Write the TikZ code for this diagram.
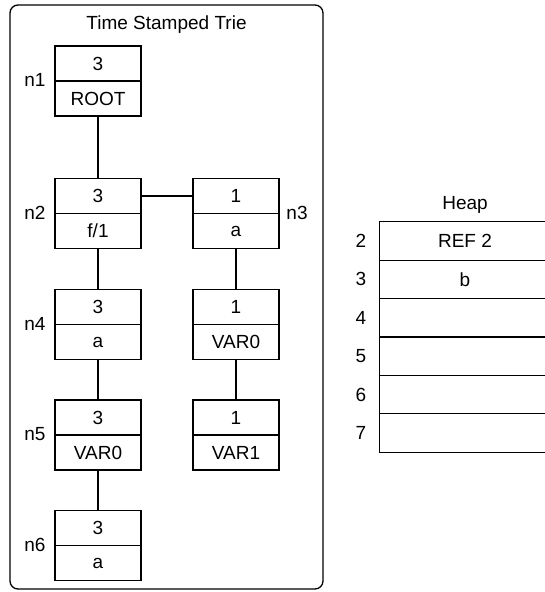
\documentclass[tikz,border=0pt]{standalone}
\usepackage{fontspec}
\setmainfont{Liberation Sans}
\begin{document}
\begin{tikzpicture}[x=1pt,y=-1pt,
  every node/.style={font=\fontsize{19}{22}\selectfont},
  cell/.style={draw,line width=1.3pt,minimum width=86pt,minimum height=35pt,inner sep=0pt,anchor=center},
  lbl/.style={inner sep=0pt,anchor=center},
  link/.style={line width=1.3pt},
  hcell/.style={draw,line width=1.3pt,minimum width=172pt,minimum height=38.4pt,inner sep=0pt,anchor=west}]
\useasboundingbox (0,0) rectangle (544,592);
% container
\draw[line width=1.3pt,rounded corners=8pt] (10,5) rectangle (323,589);
\node[lbl] (title) at (166.5,25) {Time Stamped Trie};
% trie nodes: top cell (count) and bottom cell (symbol)
\node[cell] (n1t) at (98,63.5) {3};
\node[cell] (n1b) at (98,98.5) {ROOT};
\node[cell] (n2t) at (98,196) {3};
\node[cell] (n2b) at (98,231) {f/1};
\node[cell] (n3t) at (236,196) {1};
\node[cell] (n3b) at (236,231) {a};
\node[cell] (n4t) at (98,307) {3};
\node[cell] (n4b) at (98,342) {a};
\node[cell] (n7t) at (236,307) {1};
\node[cell] (n7b) at (236,342) {VAR0};
\node[cell] (n5t) at (98,417.5) {3};
\node[cell] (n5b) at (98,452.5) {VAR0};
\node[cell] (n8t) at (236,417.5) {1};
\node[cell] (n8b) at (236,452.5) {VAR1};
\node[cell] (n6t) at (98,528) {3};
\node[cell] (n6b) at (98,563) {a};
% names
\node[lbl] (l1) at (35,80) {n1};
\node[lbl] (l2) at (35,213) {n2};
\node[lbl] (l3) at (297,213) {n3};
\node[lbl] (l4) at (35,324) {n4};
\node[lbl] (l5) at (35,434) {n5};
\node[lbl] (l6) at (35,545) {n6};
% links
\draw[link] (n1b.south) -- (n2t.north);
\draw[link] (n2t.east) -- (n3t.west);
\draw[link] (n2b.south) -- (n4t.north);
\draw[link] (n3b.south) -- (n7t.north);
\draw[link] (n4b.south) -- (n5t.north);
\draw[link] (n7b.south) -- (n8t.north);
\draw[link] (n5b.south) -- (n6t.north);
% heap
\node[lbl] (heap) at (465,205) {Heap};
\node[hcell] (h2) at (379,241) {};
\node[hcell] (h3) at (379,279.4) {};
\node[hcell] (h4) at (379,317.8) {};
\node[hcell] (h5) at (379,356.2) {};
\node[hcell] (h6) at (379,394.6) {};
\node[hcell] (h7) at (379,433) {};
\node[lbl] (v2) at (465,241) {REF 2};
\node[lbl] (v3) at (465,279.4) {b};
\node[lbl] (i2) at (361,241) {2};
\node[lbl] (i3) at (361,279.4) {3};
\node[lbl] (i4) at (361,317.8) {4};
\node[lbl] (i5) at (361,356.2) {5};
\node[lbl] (i6) at (361,394.6) {6};
\node[lbl] (i7) at (361,433) {7};
\end{tikzpicture}
\end{document}
